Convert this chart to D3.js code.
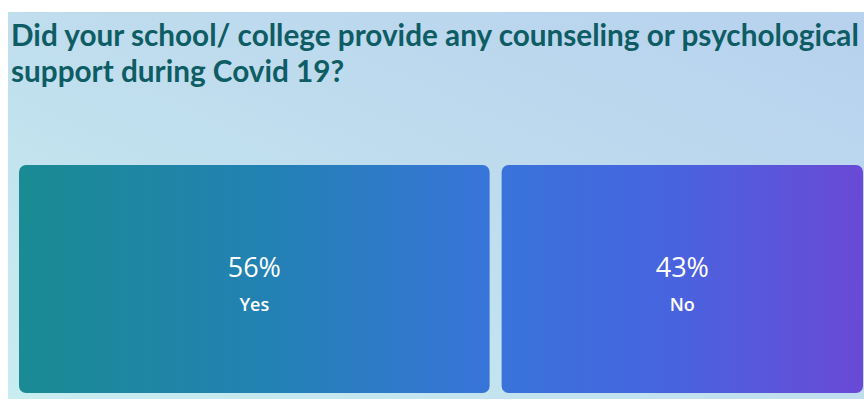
<!DOCTYPE html>
<html>
<head>
<meta charset="utf-8">
<script src="https://cdn.jsdelivr.net/npm/d3@7"></script>
<style>
  html, body { margin: 0; padding: 0; background: #fff; }
  svg { display: block; }
</style>
</head>
<body>
<div id="vis"></div>
<script>
const categories = ["Yes", "No"];
const values = [56, 43];
const percentLabels = ["56%", "43%"];
const titleLines = [
  "Did your school/ college provide any counseling or psychological",
  "support during Covid 19?"
];

const FRAME_WIDTH = 864;
const FRAME_HEIGHT = 403;
const PANEL = { x: 8, y: 12, w: 864 - 8, h: 399 - 12 };
const BOXES = { left: 19, right: 863, top: 165, bottom: 393, gap: 12 };
const FONT = "'Segoe UI', 'Open Sans', 'Noto Sans', sans-serif";
const TITLE_FONT = "'Segoe UI', Lato, 'Open Sans', sans-serif";

const svg = d3.select("#vis")
  .append("svg")
  .attr("width", FRAME_WIDTH)
  .attr("height", FRAME_HEIGHT);

const defs = svg.append("defs");

// soft background wash, cyan bottom-left to blue top-right
const bg = defs.append("linearGradient")
  .attr("id", "bg")
  .attr("x1", "0%").attr("y1", "100%")
  .attr("x2", "100%").attr("y2", "0%");
bg.append("stop").attr("offset", "0%").attr("stop-color", "#c8edf0");
bg.append("stop").attr("offset", "55%").attr("stop-color", "#bfdcee");
bg.append("stop").attr("offset", "100%").attr("stop-color", "#b7d1ee");

// one gradient spanning both boxes
const fillGrad = defs.append("linearGradient")
  .attr("id", "boxfill")
  .attr("gradientUnits", "userSpaceOnUse")
  .attr("x1", BOXES.left).attr("y1", 0)
  .attr("x2", BOXES.right).attr("y2", 0);
fillGrad.append("stop").attr("offset", "0%").attr("stop-color", "#1a8b93");
fillGrad.append("stop").attr("offset", "30%").attr("stop-color", "#2381b4");
fillGrad.append("stop").attr("offset", "56%").attr("stop-color", "#3874da");
fillGrad.append("stop").attr("offset", "75%").attr("stop-color", "#4566df");
fillGrad.append("stop").attr("offset", "100%").attr("stop-color", "#6a49d6");

svg.append("rect")
  .attr("x", PANEL.x).attr("y", PANEL.y)
  .attr("width", PANEL.w).attr("height", PANEL.h)
  .attr("fill", "url(#bg)");

// title
const title = svg.append("g");
titleLines.forEach((t, i) => {
  title.append("text")
    .attr("x", 11)
    .attr("y", 46 + i * 36)
    .attr("font-family", TITLE_FONT)
    .attr("font-weight", 700)
    .attr("font-size", 27)
    .attr("fill", "#0e5c64")
    .text(t);
});
// fit first line to the width seen in the reference
const firstLen = title.select("text").node().getComputedTextLength();
const scaleFs = Math.min(1.12, 848 / firstLen);
title.selectAll("text").attr("font-size", 27 * scaleFs);

// proportional widths (treemap style)
const total = d3.sum(values);
const usable = BOXES.right - BOXES.left - BOXES.gap * (values.length - 1);
const X = d3.scaleLinear().domain([0, total]).range([0, usable]);
const starts = values.map((v, i) => BOXES.left + X(d3.sum(values.slice(0, i))) + i * BOXES.gap);

const data = categories.map((c, i) => ({
  cat: c, value: values[i], label: percentLabels[i], x: starts[i], w: X(values[i])
}));

const cells = svg.selectAll("g.cell")
  .data(data)
  .enter()
  .append("g")
  .attr("class", "cell");

cells.append("rect")
  .attr("x", d => d.x)
  .attr("y", BOXES.top)
  .attr("width", d => d.w)
  .attr("height", BOXES.bottom - BOXES.top)
  .attr("rx", 7).attr("ry", 7)
  .attr("fill", "url(#boxfill)");

const midY = (BOXES.top + BOXES.bottom) / 2;

cells.append("text")
  .attr("x", d => d.x + d.w / 2)
  .attr("y", midY - 2)
  .attr("text-anchor", "middle")
  .attr("font-family", FONT)
  .attr("font-size", 27)
  .attr("fill", "#ffffff")
  .text(d => d.label);

cells.append("text")
  .attr("x", d => d.x + d.w / 2)
  .attr("y", midY + 32)
  .attr("text-anchor", "middle")
  .attr("font-family", FONT)
  .attr("font-weight", 600)
  .attr("font-size", 18)
  .attr("fill", "#ffffff")
  .text(d => d.cat);
</script>
</body>
</html>
